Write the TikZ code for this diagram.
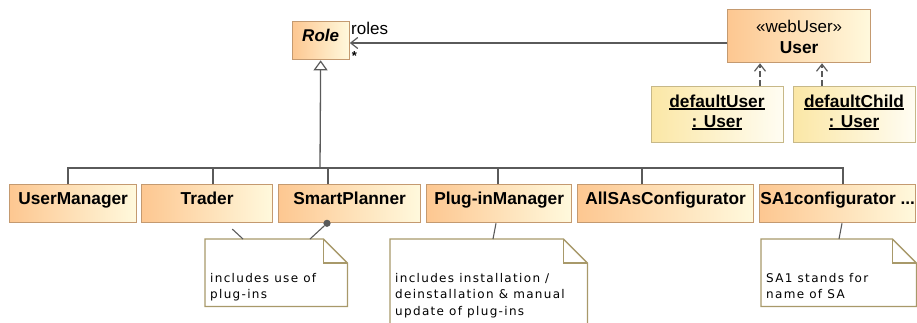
\documentclass[tikz,border=0pt]{standalone}
\usepackage{fontspec}
\setmainfont{Liberation Sans}
\newfontfamily\notefont[LetterSpace=11]{DejaVu Sans}
\usetikzlibrary{arrows.meta,calc}

\definecolor{clsA}{HTML}{FDC791}
\definecolor{clsB}{HTML}{FFF9DD}
\definecolor{clsEdge}{HTML}{C49A70}
\definecolor{objA}{HTML}{FBE7A6}
\definecolor{objB}{HTML}{FFFDF3}
\definecolor{objEdge}{HTML}{C7B888}
\definecolor{noteEdge}{HTML}{A8996A}
\definecolor{wire}{HTML}{5A5A5A}

% underlined instance name with a heavier rule
\newcommand\objname[1]{\setbox0\hbox{#1}\rlap{\rule[-3pt]{\wd0}{1.8pt}}\box0}

\tikzset{
  clsbox/.style={draw=clsEdge, line width=1.3pt, left color=clsA, right color=clsB,
    anchor=north west, inner sep=0pt, minimum height=38pt,
    text height=12pt, text depth=10pt, font=\fontsize{17.3}{20}\selectfont\bfseries},
  objbox/.style={draw=objEdge, line width=1.3pt, left color=objA, right color=objB,
    anchor=north west, inner sep=0pt, minimum height=56pt},
  boldtxt/.style={anchor=base, inner sep=0pt, font=\fontsize{17.3}{20}\selectfont\bfseries},
  plaintxt/.style={inner sep=0pt, font=\fontsize{17}{20}\selectfont},
  notebox/.style={anchor=north west, inner sep=0pt},
  noteline/.style={draw=noteEdge, line width=1.3pt, fill=white, line join=miter},
  notetext/.style={anchor=base west, inner sep=0pt, font=\fontsize{12}{16.5}\notefont},
  wireline/.style={draw=wire, line width=1.3pt},
  opentip/.style={-{Straight Barb[length=7pt,width=11pt,line width=1.2pt]}},
  gentip/.style={-{Triangle[length=10pt,width=14pt,fill=white,line width=1.2pt]}},
  dot/.style={circle, fill=wire, inner sep=0pt, minimum size=7.2pt},
}

\newcommand\drawnote[1]{%
  \path[noteline] (#1.north west) -- ($(#1.north east)+(-24,0)$) -- ($(#1.north east)+(0,24)$)
    -- (#1.south east) -- (#1.south west) -- cycle;
  \draw[noteline, fill=none] ($(#1.north east)+(-24,0)$) |- ($(#1.north east)+(0,24)$);}

\begin{document}
\begin{tikzpicture}[x=1pt, y=-1pt]
\useasboundingbox (0,0) rectangle (917,322);

% classes
\node[clsbox, minimum width=57pt, font=\fontsize{17}{20}\selectfont\bfseries\itshape] (role) at (291.5,21) {Role};
\node[clsbox, minimum width=143pt, minimum height=53pt] (user) at (727,9) {};
\node[plaintxt, anchor=base] (stereo) at (user.north |- 0,32) {«webUser»};
\node[boldtxt] (username) at (user.north |- 0,53) {User};

\node[clsbox, minimum width=127pt] (um) at (9,184) {UserManager};
\node[clsbox, minimum width=131pt] (tr) at (141,184) {Trader};
\node[clsbox, minimum width=142pt] (sp) at (278,184) {SmartPlanner};
\node[clsbox, minimum width=145pt] (pm) at (426,184) {Plug-inManager};
\node[clsbox, minimum width=176pt] (as) at (577,184) {AllSAsConfigurator};
\node[clsbox, minimum width=156pt] (sa) at (759,184) {SA1configurator ...};

% instances
\node[objbox, minimum width=132pt] (du) at (651,86) {};
\node[boldtxt] (dua) at (717,107) {\objname{defaultUser}};
\node[boldtxt] (dub) at (717,127) {\objname{: User}};
\node[objbox, minimum width=122pt] (dc) at (793,86) {};
\node[boldtxt] (dca) at (854,107) {\objname{defaultChild}};
\node[boldtxt] (dcb) at (854,127) {\objname{: User}};

% association User -> Role
\draw[wireline, opentip] (user.west |- 0,43) -- (role.east |- 0,43);
\node[plaintxt, anchor=base west] (rolename) at (351,34.5) {roles};
\node[inner sep=0pt, anchor=base, font=\fontsize{13}{14}\selectfont\bfseries] (mult) at (354.3,60.5) {*};

% instance dependencies
\draw[wireline, dashed, dash pattern=on 6pt off 3pt, opentip] (760,0 |- du.north) -- (760,0 |- user.south);
\draw[wireline, dashed, dash pattern=on 6pt off 3pt, opentip] (822,0 |- dc.north) -- (822,0 |- user.south);

% generalization tree
\coordinate (bus) at (320,168);
\foreach \n/\x in {um/68, tr/213, sp/328, pm/498, as/642, sa/843}
  \draw[wireline] (\x,0 |- \n.north) |- (bus);
\draw[wireline, gentip] (bus) -- (role.south);

% notes
\node[notebox, minimum width=142pt, minimum height=67pt] (n1) at (205,239) {};
\node[notebox, minimum width=197pt, minimum height=92pt] (n2) at (390,239) {};
\node[notebox, minimum width=155pt, minimum height=67pt] (n3) at (761,239) {};
\drawnote{n1}
\drawnote{n2}
\drawnote{n3}
\node[notetext] (t1) at ($(n1.north west)+(5,43)$)
  {\vtop{\baselineskip=16.5pt\hbox{includes use of}\hbox{plug-ins}}};
\node[notetext] (t2) at ($(n2.north west)+(5,43)$)
  {\vtop{\baselineskip=16.5pt\hbox{includes installation /}\hbox{deinstallation \& manual}\hbox{update of plug-ins}}};
\node[notetext] (t3) at ($(n3.north west)+(5,43)$)
  {\vtop{\baselineskip=16.5pt\hbox{SA1 stands for}\hbox{name of SA}}};

% note anchors
\draw[wireline, line width=1.1pt, shorten <=8.5pt] (226,0 |- tr.south) -- (243,0 |- n1.north);
\node[dot] (spdot) at (327,0 |- sp.south) {};
\draw[wireline, line width=1.1pt] (spdot) -- (310,0 |- n1.north);
\draw[wireline, line width=1.1pt] (496,0 |- pm.south) -- (493,0 |- n2.north);
\draw[wireline, line width=1.1pt] (842,0 |- sa.south) -- (839,0 |- n3.north);
\end{tikzpicture}
\end{document}
